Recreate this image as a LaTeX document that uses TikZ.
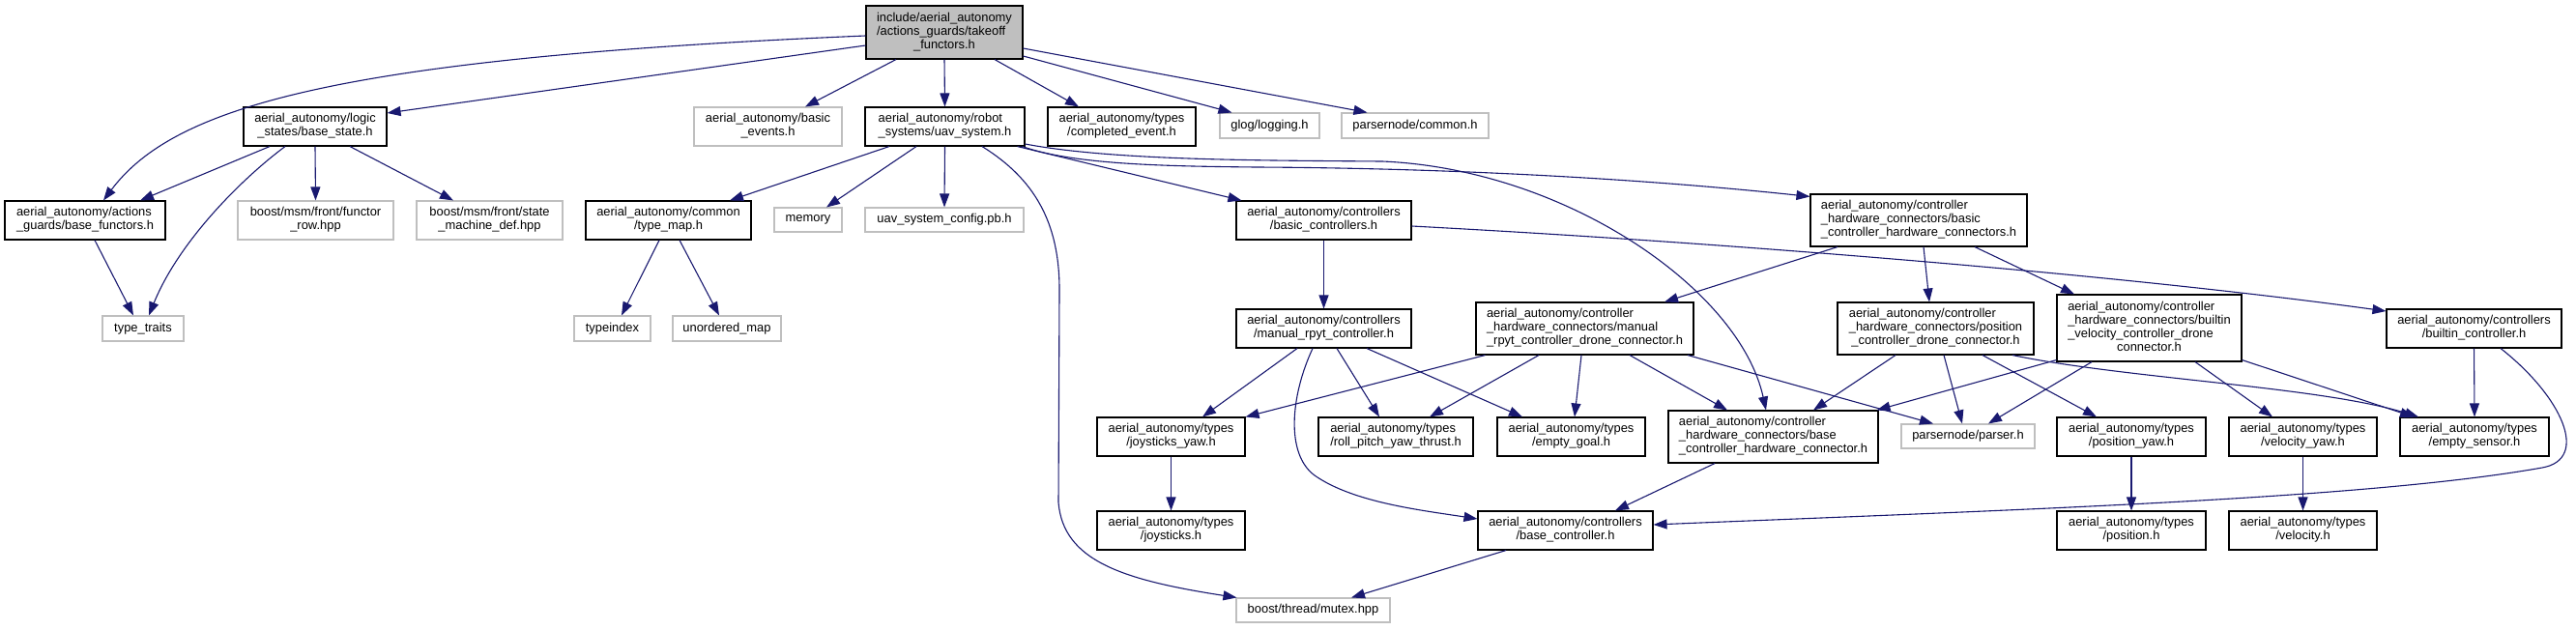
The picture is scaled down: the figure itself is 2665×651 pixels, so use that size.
\documentclass[tikz,border=0pt]{standalone}
\usepackage{fontspec}
\setmainfont{Liberation Sans}
\usetikzlibrary{arrows.meta,calc}
\definecolor{edgeblue}{HTML}{191970}
\definecolor{extgray}{HTML}{BFBFBF}
\definecolor{topfill}{HTML}{BFBFBF}
\newcommand{\ml}[1]{\begin{tabular}{@{}l@{}}#1\end{tabular}}
\newcommand{\lst}[1]{\multicolumn{1}{@{}c@{}}{#1}}
\tikzset{
  nd/.style={draw=black, line width=1.1pt, rectangle, inner sep=0pt, font=\fontsize{12.9}{14}\selectfont, align=center},
  ext/.style={nd, draw=extgray},
  topnode/.style={nd, fill=topfill},
  ar/.style={draw=edgeblue, line width=1.1pt, -{Triangle[length=14pt,width=10pt]}},
}
\begin{document}
\begin{tikzpicture}[x=1pt,y=-1pt]
\fill[white] (0,0) rectangle (2665,651);
\useasboundingbox (0,0) rectangle (2665,651);
% row 1
\node[topnode, minimum width=162pt, minimum height=55pt] (T) at (977,33.5) {\ml{include/aerial\_autonomy\\/actions\_guards/takeoff\\\lst{\_functors.h}}};
% row 2
\node[nd, minimum width=148pt, minimum height=40pt] (BS) at (326,131) {\ml{aerial\_autonomy/logic\\\lst{\_states/base\_state.h}}};
\node[ext, minimum width=153pt, minimum height=40pt] (BE) at (794.5,131) {\ml{aerial\_autonomy/basic\\\lst{\_events.h}}};
\node[nd, minimum width=165pt, minimum height=40pt] (U) at (977.5,131) {\ml{aerial\_autonomy/robot\\\lst{\_systems/uav\_system.h}}};
\node[nd, minimum width=153pt, minimum height=40pt] (CE) at (1160.5,131) {\ml{aerial\_autonomy/types\\\lst{/completed\_event.h}}};
\node[ext, minimum width=103pt, minimum height=26pt] (GL) at (1313.5,130) {glog/logging.h};
\node[ext, minimum width=152pt, minimum height=26pt] (PC) at (1464,130) {parsernode/common.h};
% row 3
\node[nd, minimum width=166pt, minimum height=40pt] (BF) at (88,228) {\ml{aerial\_autonomy/actions\\\lst{\_guards/base\_functors.h}}};
\node[ext, minimum width=161pt, minimum height=40pt] (FR) at (326.5,228) {\ml{boost/msm/front/functor\\\lst{\_row.hpp}}};
\node[ext, minimum width=151pt, minimum height=40pt] (SM) at (506.5,228) {\ml{boost/msm/front/state\\\lst{\_machine\_def.hpp}}};
\node[nd, minimum width=171pt, minimum height=40pt] (TM) at (691.5,228) {\ml{aerial\_autonomy/common\\\lst{/type\_map.h}}};
\node[ext, minimum width=70pt, minimum height=25pt] (MEM) at (836,227.5) {memory};
\node[ext, minimum width=164pt, minimum height=25pt] (UC) at (977,227.5) {uav\_system\_config.pb.h};
\node[nd, minimum width=181pt, minimum height=40pt] (BC) at (1369.5,228) {\ml{aerial\_autonomy/controllers\\\lst{/basic\_controllers.h}}};
\node[nd, minimum width=224pt, minimum height=54pt] (BCHC) at (1985,228) {\ml{aerial\_autonomy/controller\\\_hardware\_connectors/basic\\\lst{\_controller\_hardware\_connectors.h}}};
% row 4
\node[ext, minimum width=84pt, minimum height=26pt] (TT) at (148,340) {type\_traits};
\node[ext, minimum width=79pt, minimum height=26pt] (TI) at (633.5,340) {typeindex};
\node[ext, minimum width=112pt, minimum height=26pt] (UM) at (752,340) {unordered\_map};
\node[nd, minimum width=181pt, minimum height=40pt] (MRC) at (1369.5,340) {\ml{aerial\_autonomy/controllers\\\lst{/manual\_rpyt\_controller.h}}};
\node[nd, minimum width=225pt, minimum height=54pt] (MRDC) at (1639.5,340) {\ml{aerial\_autonomy/controller\\\_hardware\_connectors/manual\\\lst{\_rpyt\_controller\_drone\_connector.h}}};
\node[nd, minimum width=203pt, minimum height=54pt] (PCDC) at (2002.5,340) {\ml{aerial\_autonomy/controller\\\_hardware\_connectors/position\\\lst{\_controller\_drone\_connector.h}}};
\node[nd, minimum width=191pt, minimum height=69pt] (BVDC) at (2223.5,339.5) {\ml{aerial\_autonomy/controller\\\_hardware\_connectors/builtin\\\_velocity\_controller\_drone\\\lst{connector.h}}};
\node[nd, minimum width=181pt, minimum height=40pt] (BIC) at (2559.5,340) {\ml{aerial\_autonomy/controllers\\\lst{/builtin\_controller.h}}};
% row 5
\node[nd, minimum width=153pt, minimum height=40pt] (JY) at (1211.5,452) {\ml{aerial\_autonomy/types\\\lst{/joysticks\_yaw.h}}};
\node[nd, minimum width=160pt, minimum height=40pt] (RPY) at (1444,452) {\ml{aerial\_autonomy/types\\\lst{/roll\_pitch\_yaw\_thrust.h}}};
\node[nd, minimum width=153pt, minimum height=40pt] (EG) at (1625.5,452) {\ml{aerial\_autonomy/types\\\lst{/empty\_goal.h}}};
\node[nd, minimum width=217pt, minimum height=54pt] (BCHW) at (1834.5,452) {\ml{aerial\_autonomy/controller\\\_hardware\_connectors/base\\\lst{\_controller\_hardware\_connector.h}}};
\node[ext, minimum width=138pt, minimum height=25pt] (PA) at (2036,451.5) {parsernode/parser.h};
\node[nd, minimum width=154pt, minimum height=40pt] (PY) at (2205,452) {\ml{aerial\_autonomy/types\\\lst{/position\_yaw.h}}};
\node[nd, minimum width=153pt, minimum height=40pt] (VY) at (2382.5,452) {\ml{aerial\_autonomy/types\\\lst{/velocity\_yaw.h}}};
\node[nd, minimum width=154pt, minimum height=40pt] (ES) at (2560,452) {\ml{aerial\_autonomy/types\\\lst{/empty\_sensor.h}}};
% row 6
\node[nd, minimum width=153pt, minimum height=40pt] (J) at (1211.5,549) {\ml{aerial\_autonomy/types\\\lst{/joysticks.h}}};
\node[nd, minimum width=181pt, minimum height=40pt] (BCT) at (1619.5,549) {\ml{aerial\_autonomy/controllers\\\lst{/base\_controller.h}}};
\node[nd, minimum width=154pt, minimum height=40pt] (P) at (2205,549) {\ml{aerial\_autonomy/types\\\lst{/position.h}}};
\node[nd, minimum width=153pt, minimum height=40pt] (V) at (2382.5,549) {\ml{aerial\_autonomy/types\\\lst{/velocity.h}}};
% row 7
\node[ext, minimum width=159pt, minimum height=25pt] (MX) at (1358.5,631.5) {boost/thread/mutex.hpp};

% edges from T
\draw[ar] ($(T.west)+(0,3.5)$) .. controls (350,60) and (180,110) .. ($(BF.north)+(19,0)$);
\draw[ar] ($(T.west)+(0,13.5)$) -- ($(BS.east)+(0,-14)$);
\draw[ar] ($(T.south)+(-50,0)$) -- ($(BE.north)+(38.5,0)$);
\draw[ar] (T.south) -- (U.north);
\draw[ar] ($(T.south)+(52,0)$) -- ($(CE.north)+(-44.5,0)$);
\draw[ar] ($(T.east)+(0,24.5)$) -- ($(GL.north west)+(13,0)$);
\draw[ar] ($(T.east)+(0,16.5)$) -- ($(PC.north west)+(27,0)$);
% from BS
\draw[ar] ($(BS.south)+(-47,0)$) -- ($(BF.north)+(57,0)$);
\draw[ar] ($(BS.south)+(-31,0)$) .. controls (250,185) and (185,250) .. ($(TT.north)+(6,0)$);
\draw[ar] (BS.south) -- (FR.north);
\draw[ar] ($(BS.south)+(36,0)$) -- ($(SM.north)+(-37.5,0)$);
\draw[ar] ($(BF.south)+(10,0)$) -- ($(TT.north)+(-10,0)$);
% from U
\draw[ar] ($(U.south)+(-57.5,0)$) -- ($(TM.north)+(63.5,0)$);
\draw[ar] ($(U.south)+(-29.5,0)$) -- ($(MEM.north)+(19,0)$);
\draw[ar] (U.south) -- (UC.north);
\draw[ar] ($(U.south)+(38.5,0)$) .. controls (1070,185) and (1096,230) .. (1096,300) -- (1095,520) .. controls (1100,580) and (1160,600) .. ($(MX.north west)+(1,0)$);
\draw[ar] ($(U.south east)+(-8,0)$) -- ($(BC.north west)+(6,0)$);
\draw[ar] ($(U.south east)+(-3,0)$) .. controls (1110,170) and (1200,172) .. (1300,173) .. controls (1500,174) and (1700,185) .. ($(BCHC.north west)+(0,3)$);
\draw[ar] ($(U.east)+(0,18)$) .. controls (1150,166) and (1300,166) .. (1430,167) .. controls (1620,175) and (1800,300) .. ($(BCHW.north)+(-7.5,0)$);
% from BC
\draw[ar] (BC.south) -- (MRC.north);
\draw[ar] ($(BC.east)+(0,6)$) .. controls (1800,252) and (2200,285) .. ($(BIC.west)+(0,-18)$);
% from BCHC
\draw[ar] ($(BCHC.south)+(-84,0)$) -- ($(MRDC.north)+(82.5,0)$);
\draw[ar] ($(BCHC.south)+(5,0)$) -- ($(PCDC.north)+(-6.5,0)$);
\draw[ar] ($(BCHC.south)+(58,0)$) -- ($(BVDC.north)+(-77.5,0)$);
% from MRC
\draw[ar] ($(MRC.south)+(-27.5,0)$) -- ($(JY.north)+(32.5,0)$);
\draw[ar] ($(MRC.south)+(13.5,0)$) -- ($(RPY.north)+(-17,0)$);
\draw[ar] ($(MRC.south)+(44.5,0)$) -- ($(EG.north)+(-50.5,0)$);
\draw[ar] ($(MRC.south)+(-11.5,0)$) .. controls (1335,410) and (1330,470) .. (1360,492) .. controls (1400,520) and (1470,528) .. ($(BCT.west)+(0,-12)$);
% from MRDC
\draw[ar] ($(MRDC.south west)+(10,0)$) -- (JY.north east);
\draw[ar] ($(MRDC.south)+(-47.5,0)$) -- ($(RPY.north)+(35,0)$);
\draw[ar] ($(MRDC.south)+(-3.5,0)$) -- ($(EG.north)+(3.5,0)$);
\draw[ar] ($(MRDC.south)+(46.5,0)$) -- ($(BCHW.north)+(-47.5,0)$);
\draw[ar] ($(MRDC.south)+(106.5,0)$) -- ($(PA.north)+(-36,0)$);
% from PCDC
\draw[ar] ($(PCDC.south)+(-41.5,0)$) -- ($(BCHW.north)+(41.5,0)$);
\draw[ar] ($(PCDC.south)+(8.5,0)$) -- ($(PA.north)+(-6,0)$);
\draw[ar] ($(PCDC.south)+(48.5,0)$) -- ($(PY.north)+(-36,0)$);
\draw[ar] ($(PCDC.south)+(79.5,0)$) .. controls (2200,392) and (2400,400) .. ($(ES.north)+(-58,0)$);
% from BVDC
\draw[ar] ($(BVDC.south west)+(0,-2)$) -- ($(BCHW.north east)+(-2,0)$);
\draw[ar] ($(BVDC.south)+(-59.5,0)$) -- ($(PA.north)+(21,0)$);
\draw[ar] ($(BVDC.south)+(47.5,0)$) -- ($(VY.north)+(-31.5,0)$);
\draw[ar] ($(BVDC.south east)+(0,-2)$) -- ($(ES.north)+(-63,0)$);
% from BIC
\draw[ar] (BIC.south) -- (ES.north);
\draw[ar] ($(BIC.south)+(27.5,0)$) .. controls (2650,410) and (2680,475) .. (2630,484) .. controls (2450,516) and (2100,527) .. ($(BCT.east)+(0,-6)$);
% others
\draw[ar] (JY.south) -- (J.north);
\draw[ar] (PY.south) -- (P.north);
\draw[ar] (VY.south) -- (V.north);
\draw[ar] ($(BCHW.south)+(-60.5,0)$) -- ($(BCT.north)+(51.5,0)$);
\draw[ar] ($(BCT.south)+(-61.5,0)$) -- ($(MX.north)+(39.5,0)$);
\draw[ar] ($(TM.south)+(-9.5,0)$) -- ($(TI.north)+(9.5,0)$);
\draw[ar] ($(TM.south)+(11.5,0)$) -- ($(UM.north)+(-8,0)$);
\end{tikzpicture}
\end{document}
